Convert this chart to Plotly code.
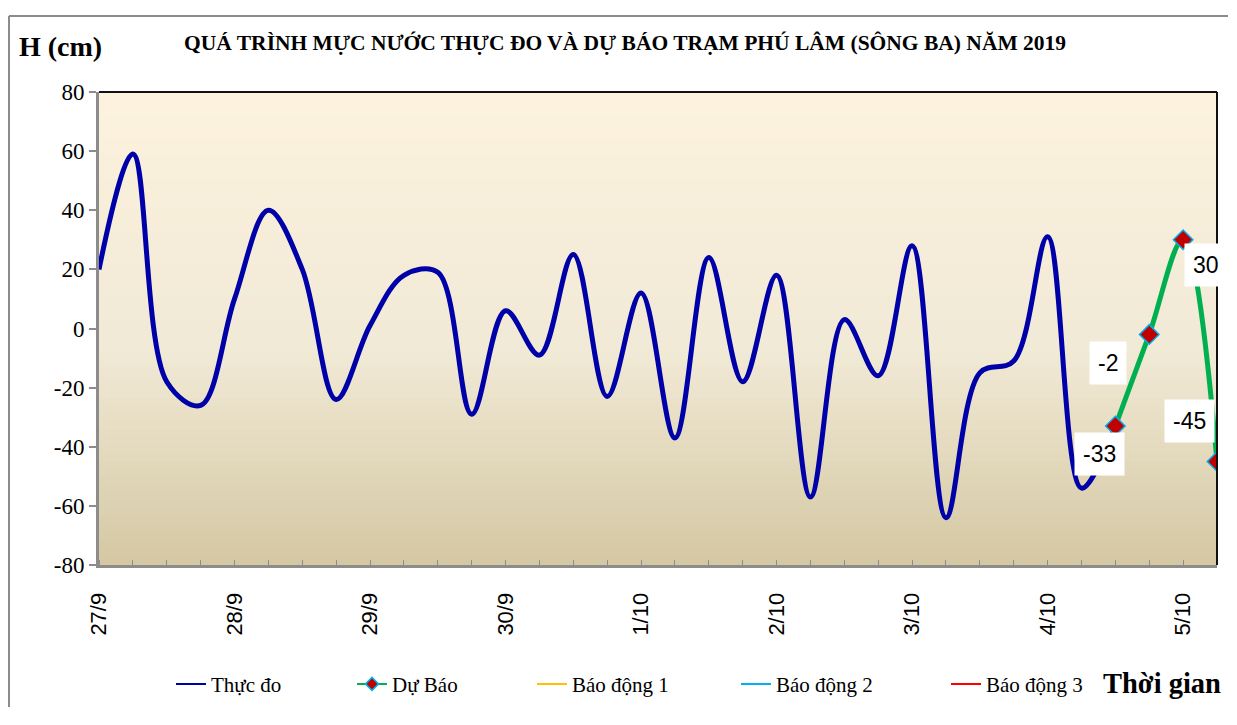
import plotly.graph_objects as go

# ---- data (6-hourly steps, index 0 = 27/9 00h) ----
actual_steps = list(range(31))
actual_values = [20, 59, -18, -26, 10, 40, 20, -24, 1, 18, 19, -29, 6, -9, 25, -23,
                 12, -37, 24, -18, 18, -57, 3, -16, 28, -64, -15, -11, 31, -54, -33]
forecast_steps = [30, 31, 32, 33]
forecast_values = [-33, -2, 30, -45]
day_ticks = [0, 4, 8, 12, 16, 20, 24, 28, 32]
day_labels = ["27/9", "28/9", "29/9", "30/9", "1/10", "2/10", "3/10", "4/10", "5/10"]
y_tick_vals = [80, 60, 40, 20, 0, -20, -40, -60, -80]
y_tick_text = ["80", "60", "40", "20", "0", "-20", "-40", "-60", "-80"]
alert_names = ["Báo động 1", "Báo động 2", "Báo động 3"]
alert_colors = ["#FFC000", "#00B0F0", "#FF0000"]

SERIF = "Liberation Serif"
SANS = "Liberation Sans"

W, H = 1221, 709
ML, MR, MT, MB = 91, 12, 84, 145
PW = W - ML - MR  # 1118
PH = H - MT - MB  # 480


def px_x(page_x):
    return (page_x - 8 - ML) / PW


def px_y(page_y):
    return (H - MB - (page_y - 8)) / PH


fig = go.Figure()

fig.add_trace(go.Scatter(x=actual_steps, y=actual_values, mode="lines", name="Thực đo",
                         line=dict(color="#0000A8", width=5, shape="spline", smoothing=1.0),
                         showlegend=False))
fig.add_trace(go.Scatter(x=forecast_steps, y=forecast_values, mode="lines+markers", name="Dự Báo",
                         line=dict(color="#00B050", width=5, shape="spline", smoothing=1.0),
                         marker=dict(symbol="diamond", size=15, color="#C00000",
                                     line=dict(color="#00B0F0", width=1.5)),
                         showlegend=False))
# legend entries (thin lines, like the reference legend)
fig.add_trace(go.Scatter(x=[None], y=[None], mode="lines", name="Thực đo",
                         line=dict(color="#0000A8", width=2), legend="legend"))
fig.add_trace(go.Scatter(x=[None], y=[None], mode="lines+markers", name="Dự Báo",
                         line=dict(color="#00B050", width=2),
                         marker=dict(symbol="diamond", size=10, color="#C00000",
                                     line=dict(color="#00B0F0", width=1.5)),
                         legend="legend2"))
for i, (nm, col) in enumerate(zip(alert_names, alert_colors)):
    fig.add_trace(go.Scatter(x=[None], y=[None], mode="lines", name=nm,
                             line=dict(color=col, width=2), legend=f"legend{i+3}"))

# gradient background
N = 60
top = (253, 243, 223)
mid = (241, 234, 214)
bot = (213, 200, 163)
shapes = []
for k in range(N):
    t = (k + 0.5) / N  # 0 top -> 1 bottom
    if t < 0.55:
        f = t / 0.55
        c = [top[j] + (mid[j] - top[j]) * f for j in range(3)]
    else:
        f = (t - 0.55) / 0.45
        c = [mid[j] + (bot[j] - mid[j]) * f for j in range(3)]
    shapes.append(dict(type="rect", xref="x domain", yref="y domain", x0=0, x1=1,
                       y0=1 - (k + 1) / N, y1=1 - k / N + 0.002, layer="below",
                       fillcolor="rgb(%d,%d,%d)" % tuple(int(v) for v in c), line=dict(width=0)))
# top & right black border
shapes.append(dict(type="line", xref="paper", yref="paper", x0=0, x1=1, y0=1, y1=1,
                   line=dict(color="#111111", width=2)))
shapes.append(dict(type="line", xref="paper", yref="paper", x0=1, x1=1, y0=0, y1=1,
                   line=dict(color="#111111", width=2)))
# outer chart frame (left + top edges; kept inside the figure)
fx0 = px_x(9)
fy1 = px_y(15)
fx1 = (W - ML - 1) / PW
fy0 = -(MB - 1) / PH
shapes.append(dict(type="line", xref="paper", yref="paper", x0=fx0, x1=fx1, y0=fy1, y1=fy1,
                   line=dict(color="#8C8C8C", width=2), layer="below"))
shapes.append(dict(type="line", xref="paper", yref="paper", x0=fx0, x1=fx0, y0=fy0, y1=fy1,
                   line=dict(color="#8C8C8C", width=2), layer="below"))

annotations = [
    dict(text="<b>QUÁ TRÌNH MỰC NƯỚC THỰC ĐO VÀ DỰ BÁO TRẠM PHÚ LÂM (SÔNG BA) NĂM 2019</b>",
         xref="paper", yref="paper", x=px_x(625), y=px_y(42), xanchor="center", yanchor="middle",
         showarrow=False, font=dict(family=SERIF, size=21.5, color="#000")),
    dict(text="<b>H (cm)</b>", xref="paper", yref="paper", x=px_x(60), y=px_y(46),
         xanchor="center", yanchor="middle", showarrow=False,
         font=dict(family=SERIF, size=28, color="#000")),
    dict(text="<b>Thời gian</b>", xref="paper", yref="paper", x=px_x(1162), y=px_y(692),
         xanchor="center", yanchor="middle", showarrow=False,
         font=dict(family=SERIF, size=28.5, color="#000")),
]
label_shifts = [(-16, -28), (-41, -29), (23, -25), (-28, 41)]
for xv, yv, (dx, dy) in zip(forecast_steps, forecast_values, label_shifts):
    annotations.append(dict(x=xv, y=yv, xref="x", yref="y", text=str(yv), showarrow=False,
                            xshift=dx, yshift=dy, bgcolor="white", borderpad=8,
                            font=dict(family=SANS, size=23, color="#000")))

legend_text_x = [212, 393, 573, 777, 987]
legend_common = dict(orientation="h", yanchor="middle", xanchor="left", y=px_y(693),
                     bgcolor="rgba(0,0,0,0)", font=dict(family=SERIF, size=21, color="#000"),
                     borderwidth=0)
legends = {}
for i, tx in enumerate(legend_text_x):
    key = "legend" if i == 0 else f"legend{i+1}"
    legends[key] = dict(legend_common, x=px_x(tx - 41))

fig.update_layout(
    width=W, height=H, autosize=False,
    margin=dict(l=ML, r=MR, t=MT, b=MB),
    paper_bgcolor="white",
    plot_bgcolor="rgba(0,0,0,0)",
    showlegend=True,
    shapes=shapes,
    annotations=annotations,
    **legends,
    xaxis=dict(range=[0, 33], tickmode="array", tickvals=day_ticks, ticktext=day_labels,
               tickangle=-90, ticks="", showgrid=False, zeroline=False,
               showline=True, linecolor="#8C8C8C", linewidth=3,
               tickfont=dict(family=SANS, size=22, color="#000"),
               minor=dict(ticks="inside", dtick=1, ticklen=5, tickcolor="#8C8C8C", tickwidth=1,
                          showgrid=False),
               ticklabelstandoff=16),
    yaxis=dict(range=[-80, 80], tickmode="array", tickvals=y_tick_vals, ticktext=y_tick_text,
               ticks="outside", ticklen=7, tickcolor="#8C8C8C",
               tickwidth=2, showgrid=False, zeroline=False, showline=True, linecolor="#8C8C8C",
               linewidth=3, tickfont=dict(family=SERIF, size=23, color="#000"),
               ticklabelstandoff=0),
)

fig.write_html("out.html")
